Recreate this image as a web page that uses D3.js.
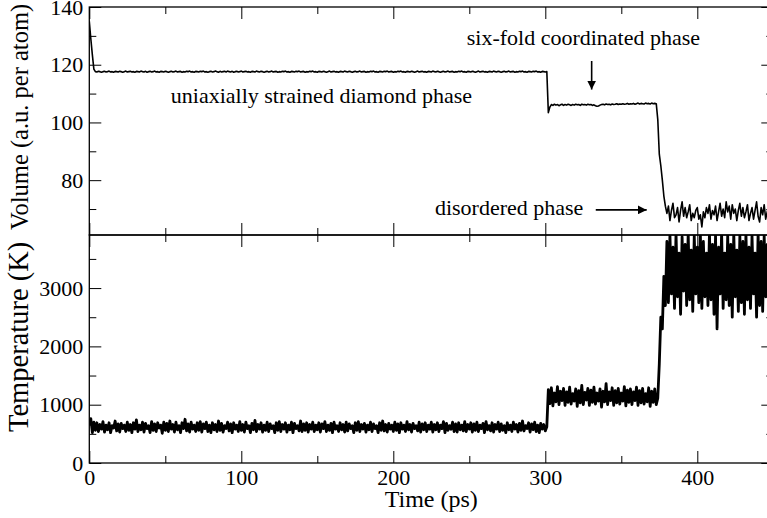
<!DOCTYPE html>
<html>
<head>
<meta charset="utf-8">
<script src="https://cdn.jsdelivr.net/npm/d3@7"></script>
<style>
  body { margin: 0; background: #fff; }
  svg text { font-family: 'Liberation Serif', 'Times New Roman', Times, serif; fill: #000; }
</style>
</head>
<body>
<svg id="chart"></svg>
<script>
// one sample per ps
const dt = 1;

// Volume (a.u. per atom)
const volRelax = [135.0, 129.0, 123.5, 118.5];
const volDiamond = [
  117.6, 117.5, 117.7, 117.6, 117.4, 117.6, 117.7, 117.5, 117.6, 117.8, 117.5, 117.6, 117.4, 117.7, 117.6, 117.5, 117.7, 117.6, 117.4, 117.6, 117.8, 117.5, 117.6, 117.7, 117.5,
  117.6, 117.4, 117.7, 117.6, 117.5, 117.8, 117.6, 117.5, 117.7, 117.4, 117.6, 117.7, 117.5, 117.6, 117.8, 117.5, 117.6, 117.4, 117.7, 117.6, 117.5, 117.7, 117.6, 117.4, 117.6,
  117.7, 117.5, 117.6, 117.8, 117.5, 117.6, 117.7, 117.4, 117.6, 117.5, 117.7, 117.6, 117.8, 117.5, 117.6, 117.4, 117.7, 117.6, 117.5, 117.7, 117.6, 117.8, 117.5, 117.6, 117.4,
  117.6, 117.7, 117.5, 117.6, 117.8, 117.6, 117.4, 117.7, 117.5, 117.6, 117.7, 117.5, 117.8, 117.6, 117.5, 117.7, 117.4, 117.6, 117.7, 117.5, 117.6, 117.8, 117.5, 117.6, 117.7,
  117.5, 117.6, 117.4, 117.7, 117.6, 117.5, 117.8, 117.6, 117.5, 117.7, 117.6, 117.4, 117.6, 117.7, 117.5, 117.6, 117.8, 117.5, 117.6, 117.7, 117.4, 117.6, 117.5, 117.7, 117.6,
  117.8, 117.5, 117.6, 117.4, 117.7, 117.6, 117.5, 117.7, 117.6, 117.8, 117.5, 117.6, 117.7, 117.4, 117.6, 117.5, 117.7, 117.6, 117.8, 117.5, 117.6, 117.4, 117.7, 117.6, 117.5,
  117.7, 117.6, 117.4, 117.6, 117.8, 117.5, 117.6, 117.7, 117.5, 117.6, 117.4, 117.7, 117.6, 117.5, 117.8, 117.6, 117.5, 117.7, 117.6, 117.4, 117.6, 117.7, 117.5, 117.6, 117.8,
  117.5, 117.6, 117.7, 117.4, 117.6, 117.5, 117.7, 117.6, 117.8, 117.5, 117.6, 117.4, 117.7, 117.6, 117.5, 117.7, 117.6, 117.8, 117.5, 117.6, 117.7, 117.4, 117.6, 117.5, 117.7,
  117.6, 117.8, 117.5, 117.6, 117.4, 117.7, 117.6, 117.5, 117.7, 117.6, 117.4, 117.6, 117.8, 117.5, 117.6, 117.7, 117.5, 117.6, 117.4, 117.7, 117.6, 117.5, 117.8, 117.6, 117.5,
  117.7, 117.6, 117.4, 117.6, 117.7, 117.5, 117.6, 117.8, 117.5, 117.6, 117.7, 117.4, 117.6, 117.5, 117.7, 117.6, 117.8, 117.5, 117.6, 117.4, 117.7, 117.6, 117.5, 117.7, 117.6,
  117.4, 117.6, 117.8, 117.5, 117.6, 117.7, 117.5, 117.6, 117.4, 117.7, 117.6, 117.5, 117.8, 117.6, 117.5, 117.7, 117.6, 117.4, 117.6, 117.7, 117.5, 117.6, 117.8, 117.5, 117.6,
  117.7, 117.4, 117.6, 117.5, 117.7, 117.6, 117.8, 117.5, 117.6, 117.4, 117.7, 117.6, 117.5, 117.7, 117.6, 117.8, 117.5, 117.6, 117.4, 117.7, 117.6, 117.5, 117.6
];
const volSixfold = [
  103.4, 105.3, 106.2, 105.9, 106.3, 106.0, 106.2, 105.8, 106.1, 106.3, 105.9, 106.2, 106.0, 106.3, 106.1, 105.9, 106.2, 106.0, 106.3, 106.1, 106.2, 105.9, 106.3, 106.1, 106.2,
  106.0, 106.3, 106.1, 106.2, 105.9, 106.1, 105.8, 105.6, 105.7, 106.0, 106.2, 106.3, 106.1, 106.4, 106.2, 106.3, 106.1, 106.4, 106.2, 106.3, 106.5, 106.2, 106.4, 106.3, 106.5,
  106.3, 106.4, 106.6, 106.3, 106.5, 106.4, 106.6, 106.3, 106.5, 106.7, 106.4, 106.6, 106.5, 106.4, 106.7, 106.5, 106.6, 106.4, 106.7, 106.5, 106.6, 106.5
];
const volCollapse = [101.0, 89.0, 85.0, 80.0, 74.5, 71.0];
const volDisordered = [
  68.5, 71.0, 66.0, 69.5, 72.0, 67.0, 68.0, 70.5, 65.5, 69.5, 72.5, 67.5, 70.5, 67.0, 69.0, 71.5, 66.0, 68.5, 67.0, 69.5, 70.5, 66.5, 68.0, 63.8, 69.0,
  67.0, 70.5, 68.5, 71.5, 66.5, 69.5, 68.0, 71.0, 66.0, 69.0, 72.0, 67.5, 70.0, 67.0, 72.5, 69.0, 71.0, 66.5, 71.5, 68.5, 70.0, 66.0, 69.5, 72.0, 67.5,
  70.5, 67.0, 69.0, 71.5, 66.0, 68.5, 70.5, 66.5, 69.5, 72.5, 67.5, 65.5, 70.5, 68.0, 71.5, 66.5, 69.0, 71.0, 66.0, 69.5, 68.0
];

// Temperature (K)
const tempDiamond = [
  640, 760, 520, 700, 560, 690, 540, 660, 580, 710, 530, 650, 570, 690, 520, 640, 600, 720, 550, 670, 530, 680, 590, 650, 540,
  700, 560, 660, 520, 690, 580, 740, 540, 650, 570, 700, 530, 680, 590, 640, 520, 710, 560, 670, 540, 690, 600, 650, 510, 700,
  560, 680, 540, 720, 580, 660, 530, 700, 570, 640, 520, 690, 590, 750, 550, 670, 530, 700, 580, 650, 540, 690, 560, 710, 530,
  670, 590, 700, 540, 650, 520, 690, 570, 660, 540, 720, 560, 680, 530, 640, 590, 700, 550, 670, 520, 690, 580, 650, 540, 710,
  560, 660, 530, 700, 590, 640, 520, 680, 570, 730, 540, 660, 580, 690, 530, 650, 560, 700, 540, 670, 590, 640, 520, 690, 560,
  710, 540, 660, 580, 690, 530, 650, 570, 700, 520, 680, 590, 640, 550, 720, 540, 670, 560, 690, 530, 660, 580, 700, 540, 650,
  570, 690, 530, 670, 590, 710, 540, 650, 560, 680, 520, 700, 580, 640, 540, 690, 570, 660, 530, 700, 550, 670, 590, 640, 520,
  690, 560, 710, 540, 660, 580, 680, 530, 650, 570, 700, 540, 670, 590, 640, 520, 690, 560, 720, 550, 660, 530, 680, 580, 650,
  540, 700, 560, 670, 520, 690, 580, 650, 540, 710, 570, 660, 530, 680, 590, 640, 550, 700, 530, 670, 570, 690, 540, 650, 580,
  700, 530, 660, 570, 690, 540, 650, 590, 710, 520, 680, 560, 640, 580, 700, 540, 670, 530, 690, 570, 650, 550, 710, 540, 660,
  580, 690, 530, 670, 560, 700, 540, 650, 590, 680, 520, 710, 570, 640, 550, 690, 530, 660, 580, 700, 540, 670, 560, 640, 520,
  690, 570, 650, 540, 700, 580, 660, 530, 680, 560, 720, 550, 640, 590, 690, 530, 670, 570, 700, 540, 650, 520, 680, 580, 660,
  550, 620
];
const tempSixfold = [
  1260, 1020, 1290, 980, 1200, 1050, 1310, 1000, 1230, 1070, 1280, 990, 1220, 1040, 1300, 1010, 1190, 1060, 1270, 970, 1240, 1030, 1330, 1000, 1210,
  1080, 1280, 990, 1250, 1040, 1300, 1010, 1200, 1060, 1270, 960, 1230, 1050, 1360, 1000, 1220, 1070, 1290, 990, 1240, 1030, 1280, 1010, 1200, 1060,
  1310, 980, 1250, 1040, 1270, 1000, 1220, 1070, 1300, 990, 1240, 1030, 1280, 1010, 1190, 1050, 1290, 970, 1230, 1040, 1270, 1000, 1110
];
const tempRise = [1700, 2500, 2300, 3200, 2700, 3800];
const tempDisordered = [
  2750, 3920, 2900, 3700, 2650, 3950, 2850, 3600, 2550, 3880, 2950, 3750, 2700, 3950, 2800, 3650, 2600, 3900, 2900, 3700, 2750, 3950, 2650, 3800, 2850,
  3600, 2700, 3950, 2800, 3750, 2550, 3900, 2300, 3700, 2900, 3950, 2650, 3600, 2800, 3900, 2700, 3750, 2500, 3950, 2850, 3650, 2600, 3900, 2750, 3800,
  2550, 3950, 2800, 3700, 2650, 3900, 2900, 3600, 2500, 3950, 2700, 3800, 2600, 3900, 2850, 3750, 2550, 3950, 2750, 3700
];

// ticks
const xMajor = [0, 100, 200, 300, 400];
const xMinor = [50, 150, 250, 350, 450];
const volMajor = [80, 100, 120, 140];
const volMinor = [70, 90, 110, 130];
const tempMajor = [0, 1000, 2000, 3000];
const tempMinor = [500, 1500, 2500, 3500];

const volume = [].concat(volRelax, volDiamond, volSixfold, volCollapse, volDisordered);
const temperature = [].concat(tempDiamond, tempSixfold, tempRise, tempDisordered);

const serif = "'Liberation Serif', 'Times New Roman', Times, serif";
const w = 767;
const h = 518;
const svg = d3.select("#chart").attr("width", w).attr("height", h);

const defs = svg.append("defs");
defs.append("marker")
  .attr("id", "head")
  .attr("viewBox", "0 0 10 10")
  .attr("refX", 10).attr("refY", 5)
  .attr("markerWidth", 9).attr("markerHeight", 9)
  .attr("markerUnits", "userSpaceOnUse")
  .attr("orient", "auto")
  .append("path")
  .attr("d", "M0,0 L10,5 L0,10 Z")
  .attr("fill", "#000");

const x = d3.scaleLinear().domain([0, 450]).range([89.3, 773.3]);
const [x0, x1] = x.range();

const panels = [
  {
    id: "vol", values: volume, major: volMajor, minor: volMinor, stroke: 1.6,
    y: d3.scaleLinear().domain([61, 140]).range([235, 7]),
    label: "Volume (a.u. per atom)", labelSize: 24.5, labelY: 230, labelX: 28, xLabels: false
  },
  {
    id: "temp", values: temperature, major: tempMajor, minor: tempMinor, stroke: 2.8,
    y: d3.scaleLinear().domain([0, 3910]).range([463, 235]),
    label: "Temperature (K)", labelSize: 28.5, labelY: 432, labelX: 28, xLabels: true
  }
];

function styleAxis(g, withText) {
  g.attr("font-family", serif).attr("font-size", 22);
  g.select(".domain").remove();
  g.selectAll("line").attr("stroke", "#000").attr("stroke-width", 1);
  g.selectAll("text").attr("fill", "#000");
  if (!withText) g.selectAll("text").remove();
}

panels.forEach(p => {
  const [yb, yt] = p.y.range();

  defs.append("clipPath").attr("id", "clip-" + p.id)
    .append("rect")
    .attr("x", x0).attr("y", yt)
    .attr("width", x1 - x0).attr("height", yb - yt);

  const line = d3.line()
    .x((d, i) => x(i * dt))
    .y(d => p.y(d));

  svg.append("path")
    .datum(p.values)
    .attr("clip-path", `url(#clip-${p.id})`)
    .attr("fill", "none")
    .attr("stroke", "#000")
    .attr("stroke-width", p.stroke)
    .attr("stroke-linejoin", "round")
    .attr("d", line);

  // left axis
  svg.append("g").attr("transform", `translate(${x0},0)`)
    .call(d3.axisLeft(p.y).tickValues(p.major).tickSize(-12).tickPadding(6).tickFormat(d3.format("d")))
    .call(g => styleAxis(g, true));
  svg.append("g").attr("transform", `translate(${x0},0)`)
    .call(d3.axisLeft(p.y).tickValues(p.minor).tickSize(-7).tickFormat(""))
    .call(g => styleAxis(g, false));
  // right axis
  svg.append("g").attr("transform", `translate(${x1},0)`)
    .call(d3.axisRight(p.y).tickValues(p.major).tickSize(-12).tickFormat(""))
    .call(g => styleAxis(g, false));
  svg.append("g").attr("transform", `translate(${x1},0)`)
    .call(d3.axisRight(p.y).tickValues(p.minor).tickSize(-7).tickFormat(""))
    .call(g => styleAxis(g, false));
  // top
  svg.append("g").attr("transform", `translate(0,${yt})`)
    .call(d3.axisTop(x).tickValues(xMajor).tickSize(-12).tickFormat(""))
    .call(g => styleAxis(g, false));
  svg.append("g").attr("transform", `translate(0,${yt})`)
    .call(d3.axisTop(x).tickValues(xMinor).tickSize(-7).tickFormat(""))
    .call(g => styleAxis(g, false));
  // bottom
  svg.append("g").attr("transform", `translate(0,${yb})`)
    .call(d3.axisBottom(x).tickValues(xMajor).tickSize(-12).tickPadding(6).tickFormat(d3.format("d")))
    .call(g => styleAxis(g, p.xLabels));
  svg.append("g").attr("transform", `translate(0,${yb})`)
    .call(d3.axisBottom(x).tickValues(xMinor).tickSize(-7).tickFormat(""))
    .call(g => styleAxis(g, false));

  // frame
  svg.append("rect")
    .attr("x", x0).attr("y", yt)
    .attr("width", x1 - x0).attr("height", yb - yt)
    .attr("fill", "none")
    .attr("stroke", "#000")
    .attr("stroke-width", 1.3);

  // y title, drawn upward from its lower end
  svg.append("text")
    .attr("transform", `translate(${p.labelX},${p.labelY}) rotate(-90)`)
    .attr("text-anchor", "start")
    .attr("font-family", serif)
    .attr("font-size", p.labelSize)
    .text(p.label);
});

// x title
svg.append("text")
  .attr("x", (x0 + x1) / 2)
  .attr("y", 507)
  .attr("text-anchor", "middle")
  .attr("font-family", serif)
  .attr("font-size", 24)
  .text("Time (ps)");

// phase annotations (volume panel coordinates)
const yVol = panels[0].y;
const notes = [
  { t: 53.6, v: 106.7, text: "uniaxially strained diamond phase" },
  { t: 248.3, v: 126.8, text: "six-fold coordinated phase" },
  { t: 227.4, v: 67.9, text: "disordered phase" }
];
svg.selectAll(".note")
  .data(notes)
  .enter()
  .append("text")
  .attr("class", "note")
  .attr("x", d => x(d.t))
  .attr("y", d => yVol(d.v))
  .attr("font-family", serif)
  .attr("font-size", 22)
  .text(d => d.text);

const arrows = [
  { t0: 330.5, v0: 121.3, t1: 330.5, v1: 111.4 },
  { t0: 333.2, v0: 69.7, t1: 366.7, v1: 69.7 }
];
svg.selectAll(".arrow")
  .data(arrows)
  .enter()
  .append("line")
  .attr("class", "arrow")
  .attr("x1", d => x(d.t0)).attr("y1", d => yVol(d.v0))
  .attr("x2", d => x(d.t1)).attr("y2", d => yVol(d.v1))
  .attr("stroke", "#000")
  .attr("stroke-width", 1.6)
  .attr("marker-end", "url(#head)");
</script>
</body>
</html>
